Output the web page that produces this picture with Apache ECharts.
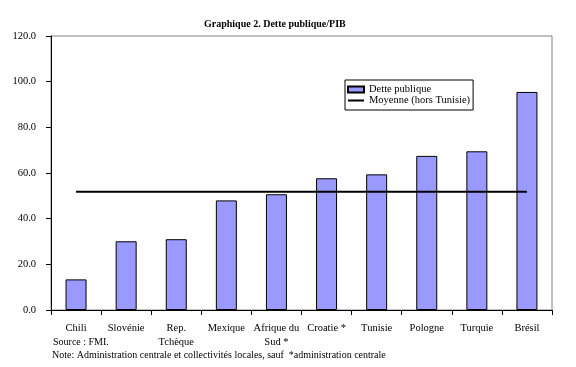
<!DOCTYPE html>
<html>
<head>
<meta charset="utf-8">
<script src="https://cdn.jsdelivr.net/npm/echarts@6/dist/echarts.min.js"></script>
<style>
html,body{margin:0;padding:0;background:#fff;}
#chart{width:576px;height:367px;}
</style>
</head>
<body>
<div id="chart"></div>
<script>
const categories = ['Chili', 'Slovénie', 'Rep.\nTchèque', 'Mexique', 'Afrique du\nSud *', 'Croatie *', 'Tunisie', 'Pologne', 'Turquie', 'Brésil'];
const detteValues = [13.4, 30.1, 31.0, 48.0, 50.7, 57.7, 59.4, 67.5, 69.5, 95.5];
const moyenneValues = [51.8, 51.8, 51.8, 51.8, 51.8, 51.8, 51.8, 51.8, 51.8, 51.8];
const yTicks = [0, 20, 40, 60, 80, 100, 120];

const FONT = 'Liberation Serif';
const FS = 10.5;
const chart = echarts.init(document.getElementById('chart'), null, {renderer: 'canvas'});
chart.setOption({
  animation: false,
  backgroundColor: '#ffffff',
  textStyle: {fontFamily: FONT, color: '#000'},
  title: {
    text: 'Graphique 2. Dette publique/PIB',
    left: 199, top: 14,
    textStyle: {fontFamily: FONT, fontSize: 10, fontWeight: 'bold', color: '#000'}
  },
  grid: {left: 51, right: 24, top: 36, bottom: 57, show: true, borderColor: '#808080', borderWidth: 1, containLabel: false},
  legend: {
    orient: 'vertical', left: 345, top: 80,
    padding: [4, 3, 4, 2], itemGap: 0,
    itemWidth: 16, itemHeight: 6,
    borderColor: '#000', borderWidth: 1, borderRadius: 0,
    textStyle: {fontFamily: FONT, fontSize: FS, color: '#000', lineHeight: 10},
    data: [
      {name: 'Dette publique', icon: 'rect'},
      {name: 'Moyenne (hors Tunisie)', icon: 'path://M0,0 M16,6 M0,2 L16,2 L16,4 L0,4 Z'}
    ]
  },
  xAxis: {
    type: 'category', data: categories, boundaryGap: true,
    axisLine: {lineStyle: {color: '#000', width: 1}},
    axisTick: {show: true, length: 5, inside: false, lineStyle: {color: '#000'}, alignWithLabel: false},
    axisLabel: {interval: 0, fontFamily: FONT, fontSize: FS, color: '#000', lineHeight: 14, margin: 11}
  },
  yAxis: {
    type: 'value', min: yTicks[0], max: yTicks[yTicks.length - 1], interval: 20,
    splitLine: {show: false},
    axisLine: {show: true, lineStyle: {color: '#000', width: 1}},
    axisTick: {show: true, length: 5, lineStyle: {color: '#000'}},
    axisLabel: {fontFamily: FONT, fontSize: FS, color: '#000', margin: 15, formatter: v => v.toFixed(1)}
  },
  series: [
    {
      name: 'Dette publique', type: 'bar', data: detteValues, barWidth: 21,
      itemStyle: {color: '#9999FF', borderColor: '#000', borderWidth: 1}
    },
    {
      name: 'Moyenne (hors Tunisie)', type: 'line', data: moyenneValues,
      symbol: 'none', showSymbol: false,
      lineStyle: {color: '#000', width: 2}, itemStyle: {color: '#000'}
    }
  ],
  graphic: [
    {type: 'text', left: 53, top: 337, style: {text: 'Source : FMI.', font: '10px "Liberation Serif"', fill: '#000'}},
    {type: 'text', left: 52, top: 350, style: {text: 'Note: Administration centrale et collectivités locales, sauf  *administration centrale', font: '10px "Liberation Serif"', fill: '#000'}}
  ]
});
</script>
</body>
</html>
